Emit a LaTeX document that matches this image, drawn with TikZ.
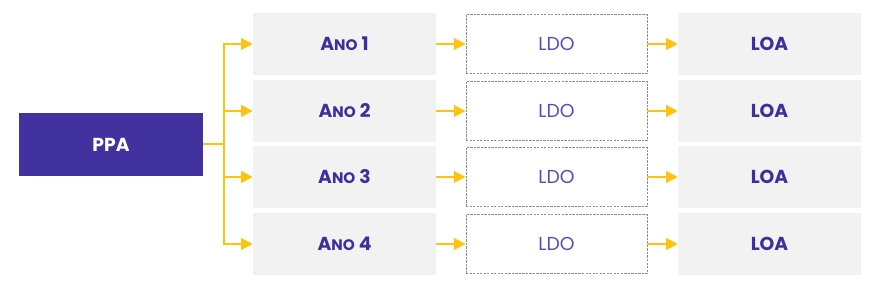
\documentclass[tikz,border=0pt]{standalone}
\usepackage{fontspec}
\setmainfont{Poppins}
\usetikzlibrary{arrows.meta}
\definecolor{ppapurple}{HTML}{4232A0}
\definecolor{textpurple}{HTML}{3F2E9C}
\definecolor{ldopurple}{HTML}{5A4ABD}
\definecolor{flowyellow}{HTML}{FFC20E}
\definecolor{boxgrey}{HTML}{F2F2F2}
\definecolor{dashgrey}{HTML}{8C8C8C}

\begin{document}
\begin{tikzpicture}[font=\fontsize{16}{19}\selectfont,>={Triangle[length=10pt,width=10pt]},
  flow/.style={draw=flowyellow,line width=1.7pt,->},
  greybox/.style={fill=boxgrey,minimum width=5.49cm,minimum height=1.85cm,text=textpurple,font=\fontsize{16}{19}\selectfont\bfseries},
  ldobox/.style={draw=dashgrey,line width=0.8pt,dash pattern=on 2pt off 1pt,fill=white,minimum width=5.43cm,minimum height=1.78cm,text=ldopurple}]
  \useasboundingbox (0,0) rectangle (26.34,8.70);
  % plano plurianual
  \node[fill=ppapurple,text=white,minimum width=5.52cm,minimum height=1.89cm,font=\fontsize{16}{19}\selectfont\bfseries] (ppa) at (3.33,4.365) {PPA};
  \coordinate (split) at (6.72,4.365);
  \draw[draw=flowyellow,line width=1.7pt] (ppa.east) -- (split);
  % um ano por linha: LDO e LOA
  \foreach \i/\y in {1/7.38,2/5.37,3/3.39,4/1.38}{
    \node[greybox] (ano\i) at (10.335,\y) {A{\fontsize{13}{15}\selectfont NO}~\i};
    \node[ldobox] (ldo\i) at (16.695,\y) {LDO};
    \node[greybox] (loa\i) at (23.085,\y) {LOA};
    \draw[flow] (split) |- (ano\i.west);
    \draw[flow] (ano\i.east) -- (ldo\i.west);
    \draw[flow] (ldo\i.east) -- (loa\i.west);}
\end{tikzpicture}
\end{document}
